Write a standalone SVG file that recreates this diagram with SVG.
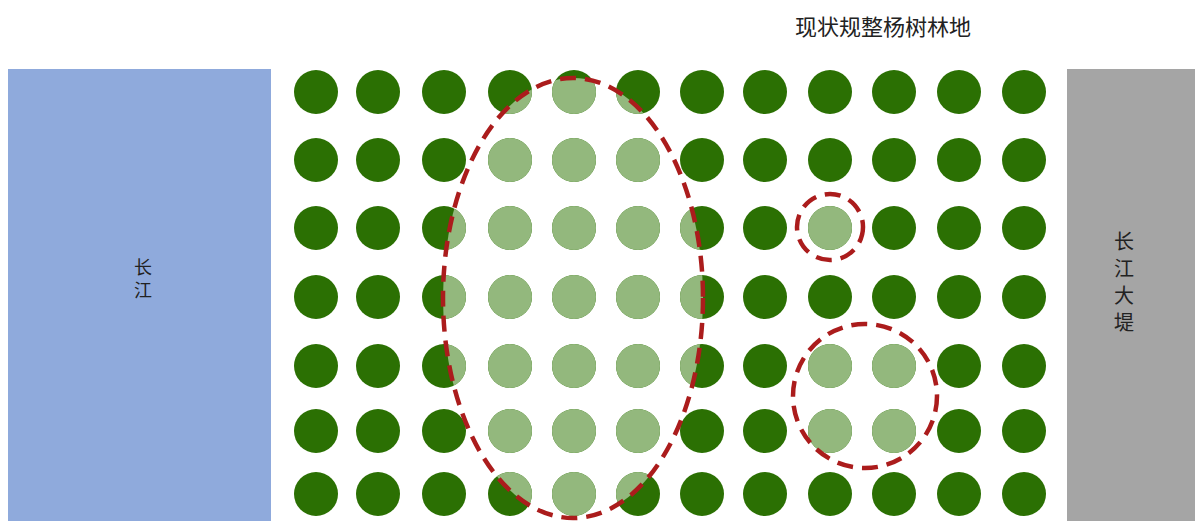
<svg xmlns="http://www.w3.org/2000/svg" xmlns:xlink="http://www.w3.org/1999/xlink" width="1195" height="521" viewBox="0 0 1195 521">
<style>
.d{fill:#2b7003}
.l{fill:#93b87d}
.ring{fill:none;stroke:#ab1c1c;stroke-width:4.5;stroke-dasharray:16 9}
.t{font-family:"Noto Sans CJK SC","Liberation Serif",serif;fill:#222;writing-mode:vertical-rl;text-anchor:start}
</style>
<defs>
<circle id="c" r="22"/>
<clipPath id="clipE"><ellipse cx="573" cy="298" rx="130" ry="220"/></clipPath>
<clipPath id="clipS"><circle cx="830" cy="227" r="33"/><circle cx="865" cy="396" r="72"/></clipPath>
<g id="row">
<use xlink:href="#c" x="316"/><use xlink:href="#c" x="378"/><use xlink:href="#c" x="444"/><use xlink:href="#c" x="510"/><use xlink:href="#c" x="574"/><use xlink:href="#c" x="638"/><use xlink:href="#c" x="702"/><use xlink:href="#c" x="765"/><use xlink:href="#c" x="830"/><use xlink:href="#c" x="894"/><use xlink:href="#c" x="959"/><use xlink:href="#c" x="1024"/>
</g>
<g id="grid">
<use xlink:href="#row" y="92"/><use xlink:href="#row" y="160"/><use xlink:href="#row" y="228"/><use xlink:href="#row" y="297"/><use xlink:href="#row" y="366"/><use xlink:href="#row" y="431"/><use xlink:href="#row" y="494"/>
</g>
</defs>
<rect width="1195" height="521" fill="#ffffff"/>
<g id="river">
<rect x="8" y="69" width="263" height="452" fill="#8faadc"/>
<text class="t" x="143" y="258" font-size="18" letter-spacing="5">长江</text>
</g>
<g id="levee">
<rect x="1067" y="69" width="128" height="452" fill="#a5a5a5"/>
<text class="t" x="1124" y="231" font-size="20" letter-spacing="7">长江大堤</text>
</g>
<g id="title">
<text x="795" y="35" style="font-family:'Noto Sans CJK SC','Liberation Serif',serif;font-size:22px;fill:#222">现状规整杨树林地</text>
</g>
<g id="trees">
<use xlink:href="#grid" class="d"/>
<g clip-path="url(#clipE)"><use xlink:href="#grid" class="l"/></g>
<g clip-path="url(#clipS)"><use xlink:href="#grid" class="l"/></g>
</g>
<g id="connectors">
<ellipse class="ring" cx="573" cy="298" rx="130" ry="220"/>
<circle class="ring" cx="830" cy="227" r="33"/>
<circle class="ring" cx="865" cy="396" r="72"/>
</g>
</svg>
